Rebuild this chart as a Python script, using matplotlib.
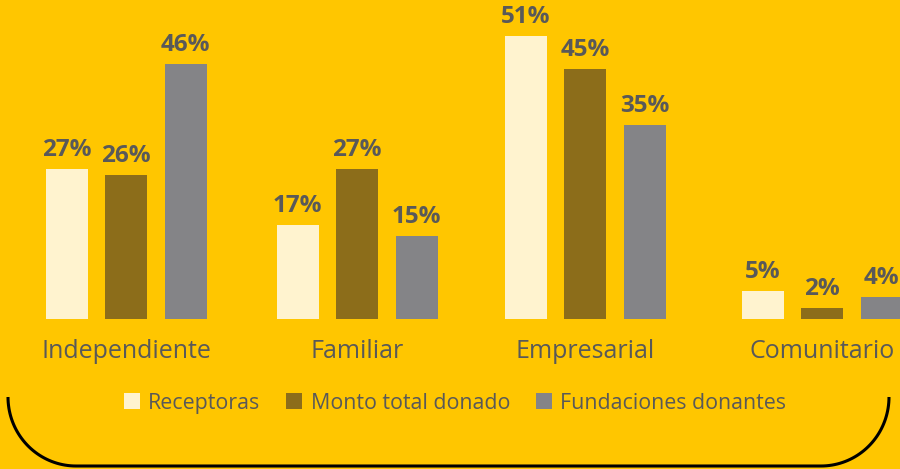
import numpy as np
import matplotlib
matplotlib.use("Agg")
import matplotlib.pyplot as plt
from matplotlib.path import Path
from matplotlib.patches import PathPatch, Patch
from matplotlib.transforms import Affine2D

categories = ["Independiente", "Familiar", "Empresarial", "Comunitario"]
series_names = ["Receptoras", "Monto total donado", "Fundaciones donantes"]
receptoras = [27, 17, 51, 5]
monto = [26, 27, 45, 2]
fundaciones = [46, 15, 35, 4]

BG = "#FFC600"
TXT = "#595959"
colors = ["#FFF3CF", "#8C6D1A", "#848487"]

plt.rcParams["font.family"] = ["Open Sans", "DejaVu Sans"]

W, H = 900, 469
fig = plt.figure(figsize=(W / 100, H / 100), dpi=100, facecolor=BG)

# axes spans full width in pixels, baseline at y=319px from top
base = 319
ax = fig.add_axes([0, (H - base) / H, 1, base / H])
ax.set_facecolor(BG)
ax.set_xlim(0, W)
ax.set_ylim(0, base / 5.55)
for s in ax.spines.values():
    s.set_visible(False)
ax.set_xticks([])
ax.set_yticks([])

# group centres (px) - slightly uneven in the original layout
centres = np.array([126, 357, 585, 822])
off = 59.5
width = 42
for i, vals in enumerate([receptoras, monto, fundaciones]):
    xs = centres + (i - 1) * off
    bars = ax.bar(xs, vals, width=width, color=colors[i], clip_on=False)
    for b, v in zip(bars, vals):
        ax.annotate(f"{v}%", (b.get_x() + b.get_width() / 2, v),
                    xytext=(0, 5), textcoords="offset points",
                    ha="center", va="bottom", fontsize=17.5,
                    fontweight="bold", color=TXT, annotation_clip=False)

# category labels
for px, cat in zip(centres, categories):
    fig.text(px / W, 1 - 351 / H, cat, ha="center", va="center",
             fontsize=18, color=TXT)

# legend
handles = [Patch(facecolor=c, edgecolor="none") for c in colors]
leg = fig.legend(handles, series_names, loc="center",
                 bbox_to_anchor=(455 / W, 1 - 403 / H), ncol=3,
                 frameon=False, fontsize=15.4, labelcolor=TXT,
                 handlelength=0.75, handleheight=0.75, handletextpad=0.4,
                 columnspacing=1.2)

# bracket at the bottom (pixel coords, y measured from top)
r = 68
x0, x1, ytop, ybot = 8, 889, 397, 466
ang = np.linspace(0, np.pi / 2, 40)
ry = ybot - ytop
lx = x0 + r - r * np.cos(ang)
ly = ytop + ry * np.sin(ang)
rx_ = x1 - r + r * np.cos(ang[::-1])
ry_ = ytop + ry * np.sin(ang[::-1])
verts = np.column_stack([np.concatenate([lx, rx_]),
                         H - np.concatenate([ly, ry_])])
patch = PathPatch(Path(verts), facecolor="none", edgecolor="black", lw=2.2,
                  transform=Affine2D().scale(1 / W, 1 / H) + fig.transFigure,
                  capstyle="butt")
fig.patches.append(patch)

fig.savefig("out.png", dpi=100, facecolor=BG)
